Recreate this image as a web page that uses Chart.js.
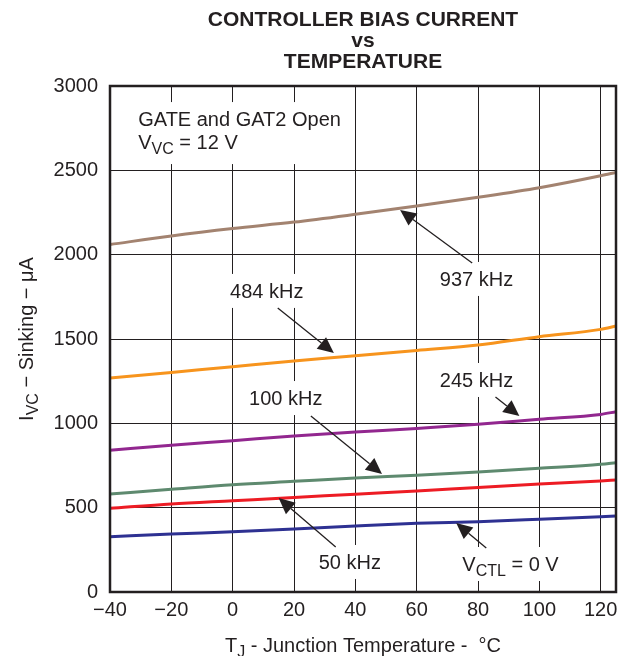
<!DOCTYPE html>
<html><head><meta charset="utf-8">
<script src="https://cdn.jsdelivr.net/npm/chart.js@4.4.1/dist/chart.umd.min.js"></script>
<style>html,body{margin:0;padding:0;background:#fff}#wrap{width:618px;height:656px}</style>
</head><body><div id="wrap"><canvas id="c" width="618" height="656"></canvas></div>
<script>
// ---- data ----
const temps   = [-40, -20, 0, 20, 40, 60, 80, 100, 120, 125];
const i937kHz = [2060, 2111, 2155, 2193, 2239, 2288, 2340, 2397, 2468, 2488];
const i484kHz = [1268, 1302, 1336, 1370, 1400, 1432, 1464, 1514, 1557, 1577];
const i245kHz = [840, 870, 897, 925, 948, 970, 994, 1024, 1053, 1069];
const i100kHz = [581, 609, 636, 656, 676, 692, 711, 733, 757, 767];
const i50kHz  = [496, 522, 541, 560, 580, 599, 620, 640, 658, 664];
const iVctl0  = [328, 344, 357, 373, 391, 407, 417, 431, 446, 450];
const xTicks = [-40, -20, 0, 20, 40, 60, 80, 100, 120];
const xTickLabels = ['\u221240', '\u221220', '0', '20', '40', '60', '80', '100', '120'];
const yTicks = [0, 500, 1000, 1500, 2000, 2500, 3000];
const yTickLabels = ['0', '500', '1000', '1500', '2000', '2500', '3000'];
const titleLines = ['CONTROLLER BIAS CURRENT', 'vs', 'TEMPERATURE'];

const INK = '#231f20';
const FONT = "'Liberation Sans', Arial, Helvetica, sans-serif";

// annotation callouts (data coordinates)
const notes = [
  {parts: [['937 kHz']], at: [79.5, 1856], tail: [78.1, 1950], head: [54.6, 2265]},
  {parts: [['484 kHz']], at: [11.1, 1785], tail: [14.7, 1684], head: [33.0, 1417]},
  {parts: [['245 kHz']], at: [79.5, 1257], tail: [85.7, 1156], head: [93.5, 1043]},
  {parts: [['100 kHz']], at: [17.3, 1150], tail: [25.5, 1043], head: [48.7, 700]},
  {parts: [['50 kHz']], at: [38.2, 178], tail: [33.6, 267], head: [15.0, 557]},
  {parts: [['V'], ['CTL', 1], [' = 0 V']], at: [90.6, 166], tail: [82.7, 261], head: [72.9, 409]}
];
const header = {lines: [[['GATE and GAT2 Open']], [['V'], ['VC', 1], [' = 12 V']]], at: [-30.8, 2804]};

function setFont(ctx, size, bold) { ctx.font = (bold ? 'bold ' : '') + size + 'px ' + FONT; }
function richWidth(ctx, parts, size) {
  let w = 0;
  for (const p of parts) { setFont(ctx, p[1] ? size * 0.8 : size); w += ctx.measureText(p[0]).width; }
  return w;
}
function drawRich(ctx, parts, x, baseline, size) {
  ctx.textAlign = 'left'; ctx.textBaseline = 'alphabetic'; ctx.fillStyle = INK;
  let cx = x;
  for (const p of parts) {
    const s = p[1] ? size * 0.8 : size;
    setFont(ctx, s);
    ctx.fillText(p[0], cx, baseline + (p[1] ? 5 : 0));
    cx += ctx.measureText(p[0]).width;
  }
}

const annot = {
  id: 'annot',
  beforeDatasetsDraw(chart) {
    const {ctx, scales: {x, y}} = chart;
    ctx.save();
    ctx.fillStyle = '#fff';
    for (const n of notes) {
      const w = richWidth(ctx, n.parts, 20);
      const cx = x.getPixelForValue(n.at[0]), cy = y.getPixelForValue(n.at[1]);
      ctx.fillRect(cx - w / 2 - 4, cy - 17, w + 8, 34);
    }
    const hx = x.getPixelForValue(header.at[0]), hy = y.getPixelForValue(header.at[1]);
    let hw = 0;
    for (const l of header.lines) hw = Math.max(hw, richWidth(ctx, l, 20));
    ctx.fillRect(hx - 4, hy - 17, hw + 8, 62);
    ctx.restore();
  },
  afterDatasetsDraw(chart) {
    const {ctx, chartArea: a, scales: {x, y}} = chart;
    ctx.save();
    // frame
    ctx.strokeStyle = INK; ctx.lineWidth = 2.5;
    ctx.strokeRect(a.left, a.top, a.right - a.left, a.bottom - a.top);
    // callouts
    for (const n of notes) {
      const w = richWidth(ctx, n.parts, 20);
      const cx = x.getPixelForValue(n.at[0]), cy = y.getPixelForValue(n.at[1]);
      drawRich(ctx, n.parts, cx - w / 2, cy + 7, 20);
      const tx = x.getPixelForValue(n.tail[0]), ty = y.getPixelForValue(n.tail[1]);
      const hx = x.getPixelForValue(n.head[0]), hy = y.getPixelForValue(n.head[1]);
      const ang = Math.atan2(hy - ty, hx - tx), L = 16, W = 7.5;
      const bx = hx - L * Math.cos(ang), by = hy - L * Math.sin(ang);
      ctx.strokeStyle = INK; ctx.lineWidth = 1.3;
      ctx.beginPath(); ctx.moveTo(tx, ty); ctx.lineTo(bx, by); ctx.stroke();
      ctx.fillStyle = INK;
      ctx.beginPath();
      ctx.moveTo(hx, hy);
      ctx.lineTo(bx + W * Math.sin(ang), by - W * Math.cos(ang));
      ctx.lineTo(bx - W * Math.sin(ang), by + W * Math.cos(ang));
      ctx.closePath(); ctx.fill();
    }
    const hx = x.getPixelForValue(header.at[0]), hy = y.getPixelForValue(header.at[1]);
    header.lines.forEach((l, i) => drawRich(ctx, l, hx, hy + 7 + i * 23, 20));
    // title
    const mid = (a.left + a.right) / 2;
    setFont(ctx, 21, true); ctx.fillStyle = INK; ctx.textAlign = 'center'; ctx.textBaseline = 'alphabetic';
    titleLines.forEach((t, i) => ctx.fillText(t, mid, 26 + i * 21));
    // x axis title
    const xt = [['T'], ['J', 1], [' - Junction Temperature -  \u00B0C']];
    const xw = richWidth(ctx, xt, 20);
    drawRich(ctx, xt, mid - xw / 2, 652, 20);
    // y axis title
    const yt = [['I'], ['VC', 1], [' \u2212 Sinking \u2212 \u03BCA']];
    const yw = richWidth(ctx, yt, 20);
    ctx.translate(33, (a.top + a.bottom) / 2);
    ctx.rotate(-Math.PI / 2);
    drawRich(ctx, yt, -yw / 2, 0, 20);
    ctx.restore();
  }
};

function ds(label, data, color) {
  return {label, data: temps.map((t, i) => ({x: t, y: data[i]})), borderColor: color, backgroundColor: color,
    borderWidth: 3, pointRadius: 0, cubicInterpolationMode: 'monotone', fill: false};
}

Chart.defaults.font.family = FONT;
Chart.defaults.font.size = 20;
Chart.defaults.color = INK;

new Chart(document.getElementById('c'), {
  type: 'line',
  data: {datasets: [
    ds('937 kHz', i937kHz, '#a38370'),
    ds('484 kHz', i484kHz, '#f7941d'),
    ds('245 kHz', i245kHz, '#92278f'),
    ds('100 kHz', i100kHz, '#5e8a6f'),
    ds('50 kHz', i50kHz, '#ed1c24'),
    ds('VCTL = 0 V', iVctl0, '#2e3192')
  ]},
  options: {
    responsive: false, animation: false, devicePixelRatio: 1,
    layout: {padding: {top: 86, right: 2, bottom: 0, left: 0}},
    plugins: {legend: {display: false}, tooltip: {enabled: false}, title: {display: false}},
    scales: {
      x: {type: 'linear', min: -40, max: 125,
        afterBuildTicks: s => { s.ticks = xTicks.map(v => ({value: v})); },
        afterFit: s => { s.height = 64; s.paddingLeft = 0; s.paddingRight = 0; },
        ticks: {padding: 6, callback: (v) => xTickLabels[xTicks.indexOf(v)] ?? '', maxRotation: 0, autoSkip: false},
        grid: {color: INK, lineWidth: 1, drawTicks: false},
        border: {display: false}},
      y: {type: 'linear', min: 0, max: 3000,
        afterBuildTicks: s => { s.ticks = yTicks.map(v => ({value: v})); },
        afterFit: s => { s.width = 110; s.paddingTop = 0; s.paddingBottom = 0; },
        ticks: {padding: 12, callback: (v) => yTickLabels[yTicks.indexOf(v)] ?? ''},
        grid: {color: INK, lineWidth: 1, drawTicks: false},
        border: {display: false}}
    }
  },
  plugins: [annot]
});
</script></body></html>
